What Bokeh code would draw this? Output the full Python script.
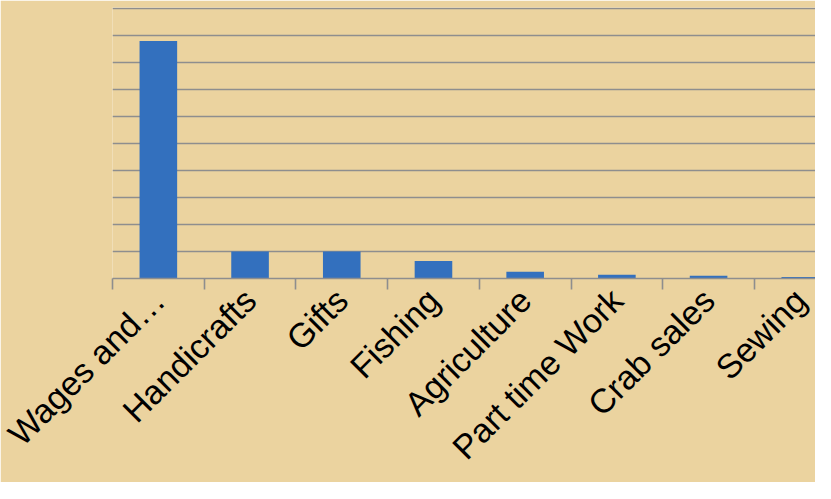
import math
from bokeh.plotting import figure
from bokeh.models import ColumnDataSource, FixedTicker, Range1d
from bokeh.embed import file_html
from bokeh.resources import INLINE

# ---- data ----
categories = ["Wages and\u2026", "Handicrafts", "Gifts", "Fishing",
              "Agriculture", "Part time Work", "Crab sales", "Sewing"]
values = [8.78, 1.0, 1.0, 0.65, 0.25, 0.14, 0.10, 0.06]
grid_levels = [1, 2, 3, 4, 5, 6, 7, 8, 9, 10]

BG = "#EBD39F"
GRID = "#8E8E8E"
BAR = "#3370BE"

n = len(categories)
centers = [i + 0.5 for i in range(n)]
src = ColumnDataSource(dict(x=centers, top=values, name=categories))

p = figure(frame_width=703, frame_height=271,
           x_range=Range1d(0, 7.666), y_range=Range1d(0, 10.02),
           output_backend="svg", toolbar_location=None, title=None,
           y_axis_location=None,
           min_border_left=112, min_border_right=0, min_border_top=7,
           min_border_bottom=0)

p.background_fill_color = BG
p.border_fill_color = BG
p.outline_line_color = None

p.vbar(x="x", top="top", bottom=0, width=0.41, source=src,
       fill_color=BAR, line_color=None)

# gridlines
p.xgrid.visible = False
p.ygrid.ticker = FixedTicker(ticks=grid_levels)
p.ygrid.grid_line_color = GRID
p.ygrid.grid_line_width = 1.6

# x axis: labels at category centres, boundary ticks as minor ticks
ax = p.xaxis[0]
ax.ticker = FixedTicker(ticks=centers, minor_ticks=list(range(n + 1)))
ax.major_label_overrides = {c: cat for c, cat in zip(centers, categories)}
ax.major_tick_out = 0
ax.major_tick_in = 0
ax.minor_tick_out = 11
ax.minor_tick_in = 0
ax.minor_tick_line_color = GRID
ax.minor_tick_line_width = 1.6
ax.axis_line_color = GRID
ax.axis_line_width = 1.6
ax.major_label_orientation = math.pi / 4
ax.major_label_text_font = "Liberation Sans"
ax.major_label_text_font_size = "34px"
ax.major_label_text_color = "#000000"
ax.major_label_standoff = 5

open("out.html", "w").write(file_html(p, INLINE))
